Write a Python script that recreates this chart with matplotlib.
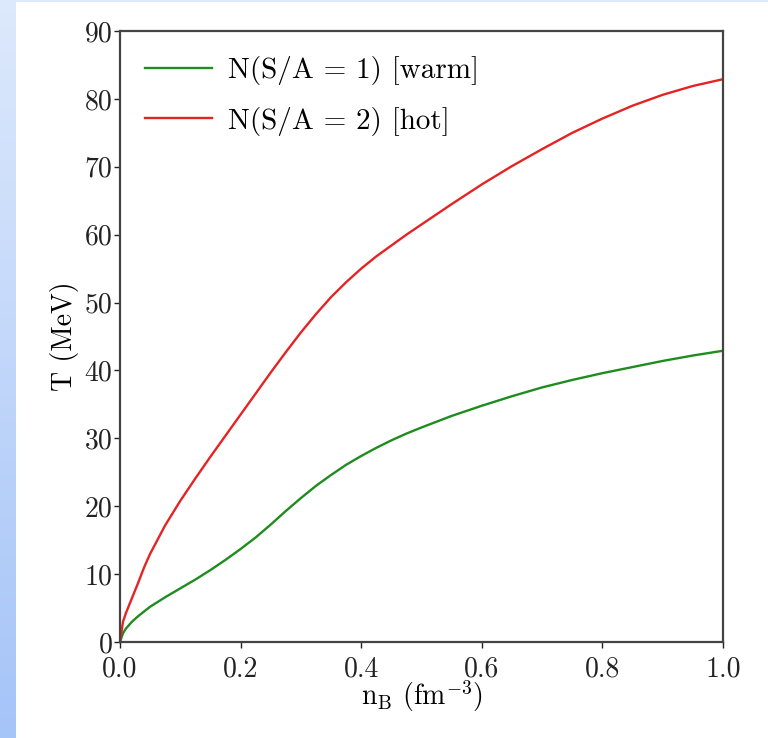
import numpy as np
import matplotlib
matplotlib.use("Agg")
import matplotlib.pyplot as plt
from matplotlib.colors import LinearSegmentedColormap

# Data
n_B = [0.0, 0.005, 0.01, 0.02, 0.03, 0.04, 0.05, 0.075, 0.1, 0.125, 0.15, 0.175,
       0.2, 0.225, 0.25, 0.275, 0.3, 0.325, 0.35, 0.375, 0.4, 0.425, 0.45, 0.475,
       0.5, 0.55, 0.6, 0.65, 0.7, 0.75, 0.8, 0.85, 0.9, 0.95, 1.0]
T_warm = [0.0, 1.3, 2.0, 3.0, 3.8, 4.5, 5.2, 6.6, 7.9, 9.2, 10.6, 12.1,
          13.7, 15.4, 17.3, 19.3, 21.2, 23.0, 24.6, 26.1, 27.4, 28.6, 29.7, 30.7,
          31.6, 33.3, 34.8, 36.2, 37.5, 38.6, 39.6, 40.5, 41.4, 42.2, 42.9]
T_hot = [0.0, 3.0, 4.3, 6.5, 8.7, 11.0, 13.0, 17.2, 20.8, 24.1, 27.3, 30.4,
         33.5, 36.6, 39.7, 42.7, 45.6, 48.3, 50.8, 53.0, 55.0, 56.8, 58.4, 60.0,
         61.5, 64.5, 67.4, 70.1, 72.6, 75.0, 77.1, 79.0, 80.6, 81.9, 82.9]
labels = ["N(S/A = 1) [warm]", "N(S/A = 2) [hot]"]
xticks = [0.0, 0.2, 0.4, 0.6, 0.8, 1.0]
yticks = [0, 10, 20, 30, 40, 50, 60, 70, 80, 90]

plt.rcParams['font.family'] = 'serif'
plt.rcParams['font.serif'] = ['cmr10', 'DejaVu Serif']
plt.rcParams['mathtext.fontset'] = 'cm'
plt.rcParams['axes.unicode_minus'] = False
plt.rcParams['axes.formatter.use_mathtext'] = True

W, H = 768, 738
fig = plt.figure(figsize=(W / 100, H / 100), dpi=100)
fig.patch.set_facecolor('white')

# slide background: top strip and left gradient strip
top = fig.add_axes([0, 1 - 2 / H, 1, 2 / H], zorder=-2)
top.set_axis_off()
top.add_patch(plt.Rectangle((0, 0), 1, 1, color='#dce8fb', transform=top.transAxes))
strip = fig.add_axes([0, 0, 16 / W, 1], zorder=-1)
grad = np.linspace(0, 1, 256).reshape(-1, 1)
cmap = LinearSegmentedColormap.from_list('bg', ['#dde9fc', '#a5c4f8'])
strip.imshow(grad, aspect='auto', cmap=cmap, extent=[0, 1, 0, 1], origin='upper')
strip.set_axis_off()

ax = fig.add_axes([120 / W, (H - 642) / H, (723 - 120) / W, (642 - 31) / H])
ax.plot(n_B, T_warm, color='#1e8c1e', lw=1.7, label=labels[0])
ax.plot(n_B, T_hot, color='#e52323', lw=1.7, label=labels[1])

ax.set_xlim(0, 1)
ax.set_ylim(0, 90)
ax.set_xticks(xticks)
ax.set_yticks(yticks)
ax.set_xticklabels([f"{v:.1f}" for v in xticks])
ax.set_yticklabels([str(v) for v in yticks])
ax.tick_params(direction='out', length=4, width=1.0, labelsize=20, colors='#222222',
               pad=1.5)
ax.tick_params(axis='x', pad=6)
for s in ax.spines.values():
    s.set_linewidth(1.6)
    s.set_color('#444444')

ax.set_xlabel(r"n$_\mathrm{B}$ (fm$^{-3}$)", fontsize=20, labelpad=-3)
ax.set_ylabel("T (MeV)", fontsize=20, labelpad=4)

leg = ax.legend(loc='upper left', frameon=False, fontsize=21, handlelength=2.3,
                handletextpad=0.55, borderaxespad=0.45, labelspacing=0.75)

fig.savefig('out.png', dpi=100, facecolor=fig.get_facecolor())
